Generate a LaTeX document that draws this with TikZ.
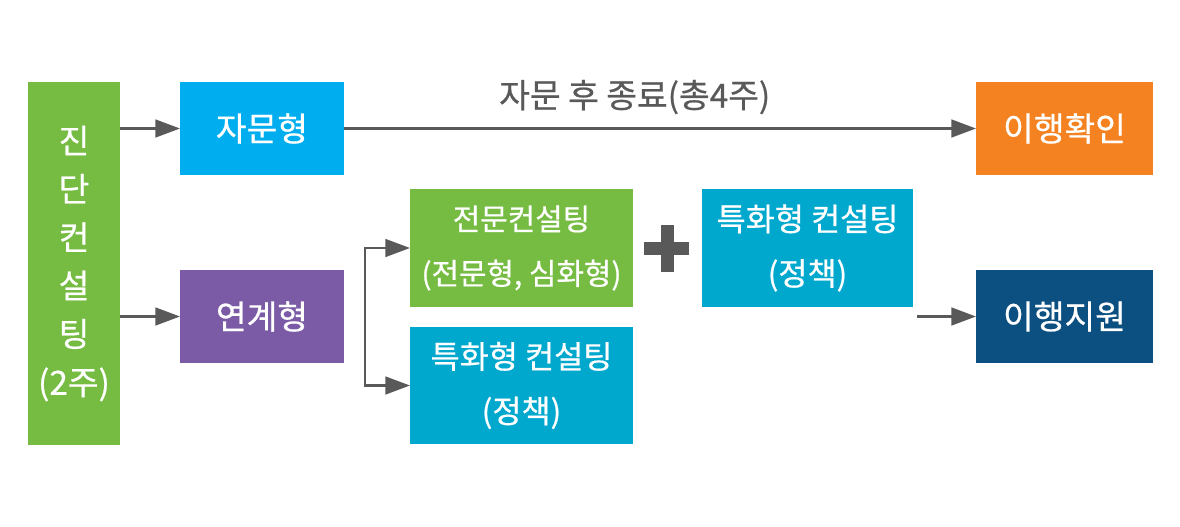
\documentclass[tikz,border=0pt]{standalone}
\usepackage{fontspec}
\newfontfamily\kr{Noto Sans CJK KR}[FakeBold=0.6]
\usetikzlibrary{arrows.meta,calc}
\definecolor{diaggreen}{HTML}{76BC43}
\definecolor{advblue}{HTML}{00AEEF}
\definecolor{linkpurple}{HTML}{7B5BA6}
\definecolor{specblue}{HTML}{00A8CE}
\definecolor{checkorange}{HTML}{F58220}
\definecolor{supportblue}{HTML}{0B5080}
\definecolor{arrgray}{HTML}{595959}
\begin{document}
\begin{tikzpicture}[x=0.02cm,y=-0.02cm,
box/.style ={rectangle, fill=#1, text=white, inner sep=0pt, outer sep=0pt,
  align=center, font=\kr\fontsize{19}{31}\selectfont
},
shortbox/.style ={minimum width=3.28cm, minimum height=1.86cm},
endbox/.style ={minimum width=3.54cm, minimum height=1.86cm},
widebox/.style ={minimum width=4.46cm, minimum height=2.36cm,
  font=\kr\fontsize{18}{31}\selectfont},
arr/.style ={draw=arrgray, line width=1.6pt, -{Triangle[length=14pt,width=10pt]}}
]
\useasboundingbox (0,0) rectangle (1180,527);
% left column
\node (diag) at (74,263.5) [box=diaggreen, minimum width=1.84cm, minimum height=7.26cm,
  font=\kr\fontsize{19}{27.5}\selectfont] {진\\단\\컨\\설\\팅\\(2주)};
\node (adv) at (262,128.5) [box=advblue, shortbox] {자문형};
\node (link) at (262,316.5) [box=linkpurple, shortbox] {연계형};
% middle
\node (expert) at (521.5,248) [box=diaggreen, widebox, font=\kr\fontsize{17}{31}\selectfont]
  {전문컨설팅\\(전문형, 심화형)};
\node (spec1) at (521.5,385.5) [box=specblue, widebox] {특화형 컨설팅\\(정책)};
\node (spec2) at (807.5,248) [box=specblue, widebox, minimum width=4.22cm] {특화형 컨설팅\\(정책)};
% right column
\node (check) at (1064.5,128.5) [box=checkorange, endbox] {이행확인};
\node (support) at (1064.5,316.5) [box=supportblue, endbox] {이행지원};
% plus sign
\fill[arrgray] (644,241.5) rectangle (689,254.5);
\fill[arrgray] (660.5,225) rectangle (673.5,272);
% connectors
\draw[arr] (diag.east |- adv) -- (adv);
\draw[arr] (diag.east |- link) -- (link);
\draw[arr] (adv) -- node[pos=0.46, above=4pt, text=arrgray, font=\kr\fontsize{19}{22}\selectfont]
  {자문 후 종료(총4주)} (check);
\coordinate (fork) at ($(link.east)+(21,0)$);
\draw[arr] (fork) |- (expert);
\draw[arr] (fork) |- (spec1);
\coordinate (spstart) at ($(spec2.east |- support)+(4,0)$);
\draw[arr] (spstart) -- (support);
\end{tikzpicture}
\end{document}
